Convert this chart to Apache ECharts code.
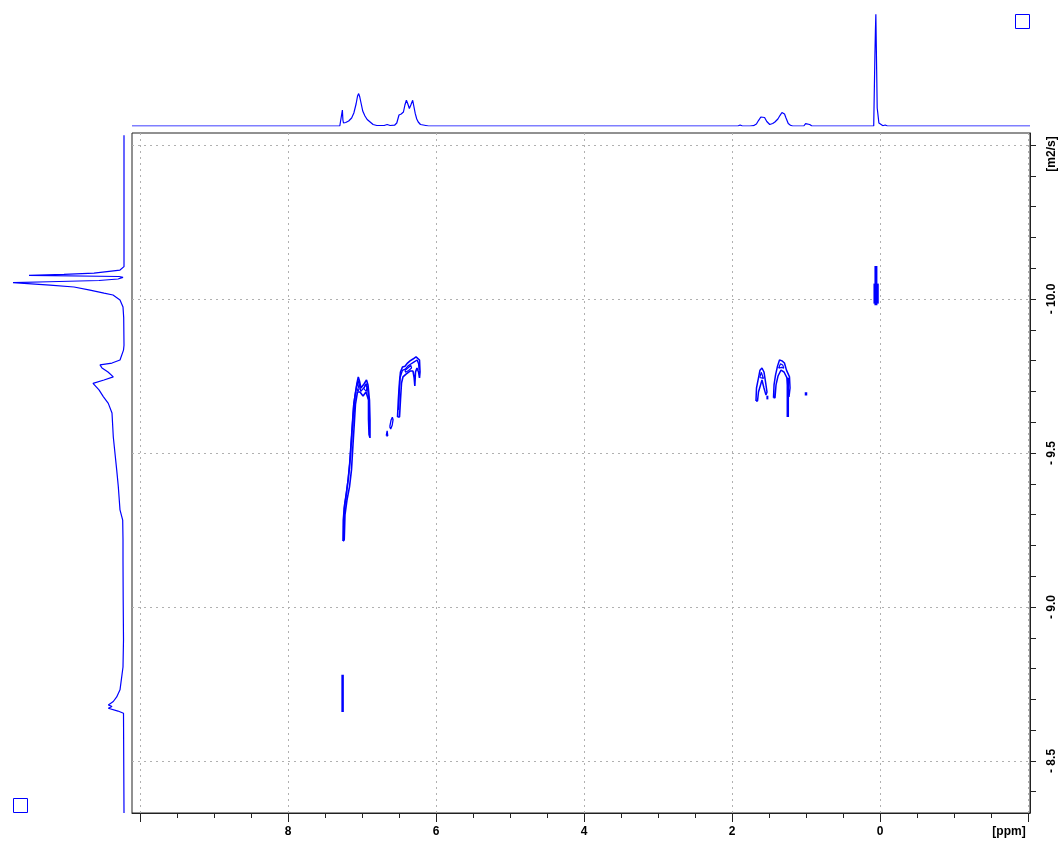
<!DOCTYPE html>
<html><head><meta charset="utf-8">
<script src="https://cdn.jsdelivr.net/npm/echarts@6/dist/echarts.min.js"></script>
<style>html,body{margin:0;padding:0;background:#fff}#c{width:1061px;height:843px}</style>
</head><body><div id="c"></div>
<script>
// ---- axis extents (ppm / log D) ----
const xExtent = [-2.027, 10.108];
const yExtent = [-10.539, -8.331];
const xMinorTicks = [-2,-1.5,-1,-0.5,0,0.5,1,1.5,2,2.5,3,3.5,4,4.5,5,5.5,6,6.5,7,7.5,8,8.5,9,9.5,10];
const xMajorTicks = [-2,0,2,4,6,8,10];
const xLabelValues = [-2,0,2,4,6,8];
const yTicks = [-10.5,-10.4,-10.3,-10.2,-10.1,-10.0,-9.9,-9.8,-9.7,-9.6,-9.5,-9.4,-9.3,-9.2,-9.1,-9.0,-8.9,-8.8,-8.7,-8.6,-8.5,-8.4];
const yLabelValues = [-10.5,-10.0,-9.5,-9.0,-8.5];
const xUnit = '[ppm]';
const yUnit = '[m2/s]';

// ---- top projection (1H spectrum): ppm, intensity ----
const topPpm = [10.108,7.30,7.275,7.265,7.258,7.25,7.22,7.18,7.14,7.11,7.08,7.06,7.045,7.03,7.01,6.99,6.96,6.93,6.89,6.85,6.80,6.70,6.66,6.64,6.62,6.56,6.53,6.50,6.47,6.44,6.42,6.40,6.38,6.36,6.34,6.315,6.30,6.28,6.26,6.24,6.21,6.19,6.10,1.92,1.89,1.86,1.76,1.71,1.67,1.64,1.61,1.585,1.56,1.53,1.49,1.45,1.42,1.38,1.35,1.325,1.307,1.29,1.27,1.24,1.21,1.18,1.03,1.005,0.98,0.95,0.92,0.15,0.085,0.075,0.069,0.062,0.056,0.050,0.045,0.038,0.030,0.023,0.015,0.005,-0.04,-0.07,-0.10,-2.027];
const topInt = [0,0,1,16,6,3,3.5,5,8,13,22,30,32.4,29,22,15,10,6.5,4,1.5,0.5,0.5,1.5,1.5,0.5,0.8,3,11,12,14,21,25.7,22,17.5,21,25.7,20,12.3,7,4,1.5,0.3,0,0,1,0,0,0.3,2,5.7,9,10.7,8.5,4.5,1.5,2.5,4,7,10.7,13.5,14.7,12,8,2.5,0.8,0,0,2.4,0.8,1.5,0,0,0,2,70,95,111.7,80,55,18,13,12,3,1,0.3,1,0,0];

// ---- left projection (diffusion): log D, intensity ----
const leftD = [-10.532,-10.105,-10.099,-10.094,-10.084,-10.080,-10.077,-10.073,-10.070,-10.065,-10.060,-10.056,-10.053,-10.049,-10.045,-10.039,-10.029,-10.019,-10.013,-9.997,-9.974,-9.94,-9.85,-9.834,-9.802,-9.792,-9.786,-9.776,-9.763,-9.747,-9.737,-9.726,-9.705,-9.683,-9.661,-9.630,-9.552,-9.445,-9.391,-9.315,-9.282,-9.218,-9.153,-9.023,-8.893,-8.805,-8.731,-8.708,-8.693,-8.682,-8.677,-8.671,-8.662,-8.655,-8.331];
const leftInt = [0,0,1,4,30,60,95,5,1,6,25,75,111,111,74,50,34,20,11,4,1,0.3,0,0.5,4,12,24,22,16,10.7,20,31,25,20.7,15.7,12,10.7,7.3,5.7,4,1.3,1,1,0.8,0.5,1,4,7.3,10.7,15.7,12,15.7,6,0.5,0];

// ---- 2D contours: [ppm, log D] ----
const contA1 = [[7.257,-9.214],[7.253,-9.282],[7.236,-9.331],[7.209,-9.373],[7.185,-9.416],[7.162,-9.471],[7.142,-9.542],[7.124,-9.607],[7.108,-9.662],[7.088,-9.695],[7.068,-9.727],[7.050,-9.747],[7.034,-9.734],[7.014,-9.711],[6.993,-9.708],[6.973,-9.724],[6.939,-9.737],[6.919,-9.721],[6.899,-9.672],[6.892,-9.607],[6.892,-9.549],[6.905,-9.56],[6.912,-9.610],[6.912,-9.672],[6.946,-9.698],[6.986,-9.685],[7.027,-9.698],[7.061,-9.698],[7.088,-9.659],[7.101,-9.607],[7.122,-9.526],[7.142,-9.445],[7.169,-9.390],[7.203,-9.347],[7.230,-9.299],[7.240,-9.218],[7.257,-9.214]];
const contA2 = [[7.248,-9.26],[7.240,-9.32],[7.214,-9.365],[7.190,-9.41],[7.168,-9.465],[7.148,-9.535],[7.130,-9.60],[7.114,-9.655],[7.094,-9.688],[7.072,-9.718],[7.052,-9.735],[7.036,-9.722],[7.016,-9.700],[6.990,-9.698],[6.970,-9.713],[6.942,-9.725],[6.925,-9.712],[6.906,-9.665],[6.902,-9.58]];
const contA3 = [[7.075,-9.715],[7.060,-9.728],[7.045,-9.722],[7.040,-9.708],[7.055,-9.700],[7.075,-9.715]];
const contA4 = [[6.975,-9.708],[6.955,-9.722],[6.935,-9.715],[6.940,-9.700],[6.960,-9.698],[6.975,-9.708]];
const contB1 = [[6.520,-9.617],[6.509,-9.672],[6.493,-9.731],[6.480,-9.763],[6.453,-9.779],[6.419,-9.782],[6.385,-9.792],[6.351,-9.799],[6.311,-9.805],[6.270,-9.812],[6.243,-9.815],[6.223,-9.802],[6.216,-9.763],[6.223,-9.744],[6.236,-9.763],[6.257,-9.776],[6.277,-9.763],[6.286,-9.718],[6.295,-9.744],[6.311,-9.766],[6.351,-9.766],[6.405,-9.756],[6.446,-9.747],[6.466,-9.727],[6.480,-9.672],[6.493,-9.617],[6.520,-9.617]];
const contB2 = [[6.505,-9.64],[6.497,-9.70],[6.485,-9.745],[6.455,-9.768],[6.415,-9.772],[6.380,-9.782],[6.345,-9.788],[6.300,-9.795],[6.255,-9.802],[6.235,-9.790],[6.228,-9.770]];
const contB3 = [[6.42,-9.768],[6.38,-9.776],[6.34,-9.784],[6.33,-9.776],[6.37,-9.768],[6.41,-9.762],[6.42,-9.768]];
const contB4 = [[6.672,-9.556],[6.660,-9.572],[6.645,-9.578],[6.640,-9.568],[6.652,-9.556],[6.672,-9.556]];
const contB5 = [[6.625,-9.585],[6.608,-9.606],[6.590,-9.616],[6.580,-9.608],[6.592,-9.590],[6.612,-9.578],[6.625,-9.585]];
const contC1 = [[1.676,-9.669],[1.669,-9.711],[1.642,-9.744],[1.622,-9.769],[1.595,-9.776],[1.568,-9.763],[1.547,-9.731],[1.527,-9.698],[1.541,-9.688],[1.568,-9.711],[1.595,-9.737],[1.622,-9.731],[1.642,-9.698],[1.655,-9.669],[1.676,-9.669]];
const contC2 = [[1.625,-9.745],[1.605,-9.762],[1.585,-9.758],[1.575,-9.742],[1.595,-9.748],[1.625,-9.745]];
const contC3 = [[1.522,-9.686],[1.522,-9.674]];
const contD1 = [[1.439,-9.679],[1.432,-9.721],[1.412,-9.753],[1.385,-9.782],[1.358,-9.802],[1.324,-9.799],[1.291,-9.792],[1.264,-9.769],[1.223,-9.747],[1.216,-9.711],[1.230,-9.682],[1.243,-9.711],[1.257,-9.744],[1.297,-9.763],[1.338,-9.769],[1.378,-9.750],[1.405,-9.721],[1.419,-9.679],[1.439,-9.679]];
const contD2 = [[1.37,-9.775],[1.345,-9.790],[1.315,-9.786],[1.30,-9.775],[1.33,-9.778],[1.37,-9.775]];
const contD3 = [[1.246,-9.744],[1.246,-9.617]];
const contD4 = [[1.000,-9.697],[1.000,-9.687]];
const contE1 = [[0.055,-10.107],[0.055,-9.980]];
const contE2 = [[0.075,-10.05],[0.075,-9.985]];
const contE3 = [[0.030,-10.05],[0.030,-9.985]];
const contF1 = [[7.262,-8.780],[7.262,-8.659]];

const contours = [
  {d: contA1, w: 1.6}, {d: contA2, w: 1.4}, {d: contA3, w: 1.2}, {d: contA4, w: 1.2},
  {d: contB1, w: 1.6}, {d: contB2, w: 1.4}, {d: contB3, w: 1.2}, {d: contB4, w: 1.3}, {d: contB5, w: 1.3},
  {d: contC1, w: 1.5}, {d: contC2, w: 1.2}, {d: contC3, w: 2},
  {d: contD1, w: 1.5}, {d: contD2, w: 1.2}, {d: contD3, w: 2.5}, {d: contD4, w: 2.5},
  {d: contE1, w: 3}, {d: contE2, w: 2}, {d: contE3, w: 2},
  {d: contF1, w: 2.5}
];

const BLUE = '#0000ff';
const FONT = {fontFamily: 'Liberation Sans, Arial, sans-serif', fontWeight: 'bold', fontSize: 12, color: '#000'};

const chart = echarts.init(document.getElementById('c'), null, {renderer: 'canvas'});

const gridMain = {left: 132, top: 133, width: 898, height: 680, show: true, borderColor: '#222', borderWidth: 1, backgroundColor: 'transparent', outerBoundsMode: 'none', containLabel: false};
const gridTop = {left: 132, top: 10, width: 898, height: 116, outerBoundsMode: 'none', containLabel: false};
const gridLeft = {left: 10, top: 133, width: 114, height: 680, outerBoundsMode: 'none', containLabel: false};

const series = [];
series.push({
  type: 'line', xAxisIndex: 2, yAxisIndex: 2,
  data: topPpm.map((p, i) => [p, topInt[i]]),
  symbol: 'none', lineStyle: {color: BLUE, width: 1.2}, silent: true
});
series.push({
  type: 'line', xAxisIndex: 3, yAxisIndex: 3,
  data: leftD.map((d, i) => [leftInt[i], d]),
  symbol: 'none', lineStyle: {color: BLUE, width: 1.2}, silent: true
});
contours.forEach(c => series.push({
  type: 'line', xAxisIndex: 0, yAxisIndex: 0, data: c.d,
  symbol: 'none', lineStyle: {color: BLUE, width: c.w}, silent: true
}));

chart.setOption({
  animation: false,
  backgroundColor: '#fff',
  grid: [gridMain, gridTop, gridLeft],
  xAxis: [
    {type: 'value', gridIndex: 0, min: xExtent[0], max: xExtent[1], inverse: true, position: 'bottom',
     axisLine: {show: true, onZero: false, lineStyle: {color: '#222', width: 1}},
     axisTick: {show: true, length: 5, customValues: xMinorTicks, lineStyle: {color: '#222'}},
     axisLabel: {show: false}, splitLine: {show: false}},
    {type: 'value', gridIndex: 0, min: xExtent[0], max: xExtent[1], inverse: true, position: 'bottom',
     axisLine: {show: false, onZero: false},
     axisTick: {show: true, length: 9, customValues: xMajorTicks, lineStyle: {color: '#222'}},
     axisLabel: Object.assign({show: true, margin: 13, customValues: xLabelValues,
       formatter: v => v === -2 ? '{u|' + xUnit + '}' : String(v),
       rich: {u: Object.assign({}, FONT, {padding: [0, 38, 0, 0]})}}, FONT),
     splitLine: {show: true, lineStyle: {color: '#b0b0b0', type: [2, 4], width: 1}}},
    {type: 'value', gridIndex: 1, min: xExtent[0], max: xExtent[1], inverse: true, show: false},
    {type: 'value', gridIndex: 2, min: 0, max: 114, inverse: true, show: false}
  ],
  yAxis: [
    {type: 'value', gridIndex: 0, min: yExtent[0], max: yExtent[1], inverse: true, position: 'right',
     axisLine: {show: true, onZero: false, lineStyle: {color: '#222', width: 1}},
     axisTick: {show: true, length: 6, customValues: yTicks, lineStyle: {color: '#222'}},
     axisLabel: Object.assign({show: true, rotate: 90, margin: 16, customValues: yLabelValues,
       formatter: v => v === -10.5 ? '{u|' + yUnit + '}' : '- ' + Math.abs(v).toFixed(1),
       rich: {u: Object.assign({}, FONT, {padding: [0, 18, 0, 0]})}}, FONT),
     splitLine: {show: false}},
    {type: 'value', gridIndex: 0, min: yExtent[0], max: yExtent[1], inverse: true, position: 'right',
     axisLine: {show: false}, axisTick: {show: false, customValues: yLabelValues}, axisLabel: {show: false},
     splitLine: {show: true, lineStyle: {color: '#b0b0b0', type: [2, 4], width: 1}}},
    {type: 'value', gridIndex: 1, min: 0, max: 116, show: false},
    {type: 'value', gridIndex: 2, min: yExtent[0], max: yExtent[1], inverse: true, show: false}
  ],
  graphic: [
    {type: 'rect', shape: {x: 1015.5, y: 14.5, width: 14, height: 14}, style: {fill: 'none', stroke: BLUE, lineWidth: 1}},
    {type: 'rect', shape: {x: 13.5, y: 798.5, width: 14, height: 14}, style: {fill: 'none', stroke: BLUE, lineWidth: 1}}
  ],
  series: series
});
</script></body></html>
